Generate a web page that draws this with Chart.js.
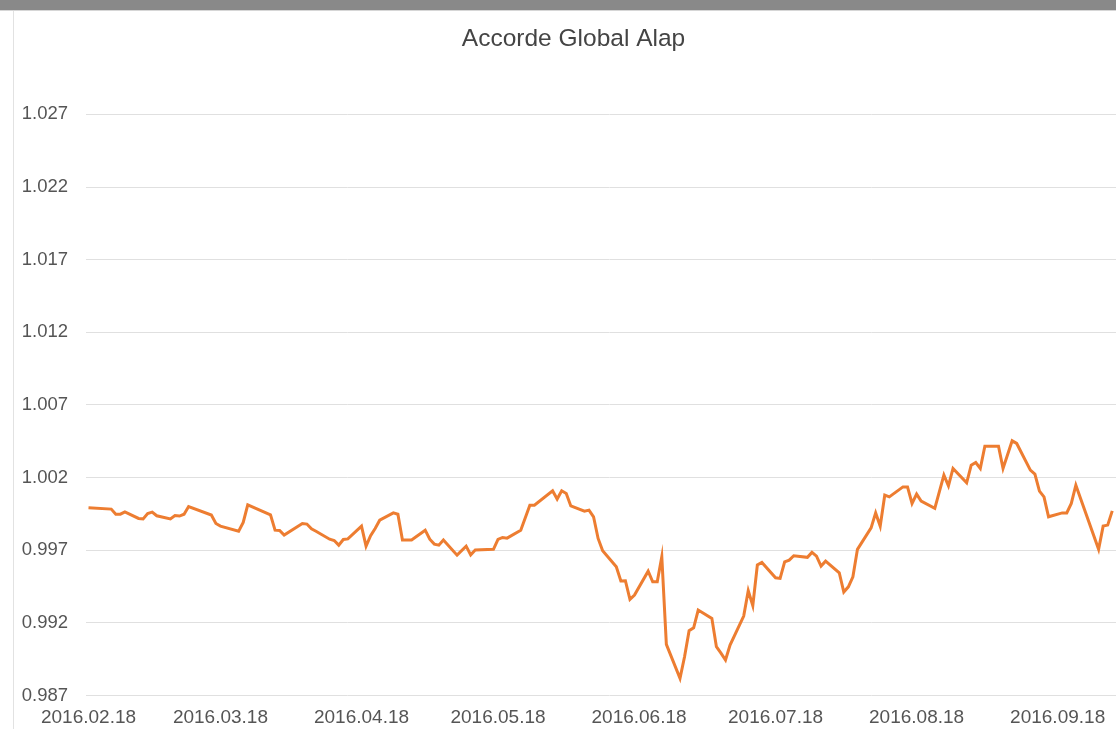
<!DOCTYPE html>
<html>
<head>
<meta charset="utf-8">
<script src="https://cdn.jsdelivr.net/npm/chart.js@4.4.0/dist/chart.umd.min.js"></script>
<style>
  html, body { margin: 0; padding: 0; width: 1116px; height: 729px; overflow: hidden; background: #fff; }
  #topbar { position: absolute; left: 0; top: 0; width: 1116px; height: 10px; background: #898989; border-bottom: 1px solid #d6d6d6; }
  #frame { position: absolute; left: 13px; top: 11px; width: 1200px; height: 718px; border-left: 1px solid #e2e2e2; }
  #wrap { position: absolute; left: 14px; top: 11px; width: 1119px; height: 718px; }
</style>
</head>
<body>
<div id="topbar"></div>
<div id="frame"></div>
<div id="wrap"><canvas id="c" width="1119" height="718"></canvas></div>
<script>
const chartTitle = 'Accorde Global Alap';
const startDate = '2016-02-18';
const tickLabels = ['2016.02.18','2016.03.18','2016.04.18','2016.05.18','2016.06.18','2016.07.18','2016.08.18','2016.09.18'];
const yTicks = [0.987, 0.992, 0.997, 1.002, 1.007, 1.012, 1.017, 1.022, 1.027];

const dates = [
 '2016-02-18','2016-02-23','2016-02-24','2016-02-25','2016-02-26','2016-02-29',
 '2016-03-01','2016-03-02','2016-03-03','2016-03-04','2016-03-07','2016-03-08','2016-03-09','2016-03-10','2016-03-11',
 '2016-03-16','2016-03-17','2016-03-18','2016-03-22','2016-03-23','2016-03-24','2016-03-29','2016-03-30','2016-03-31',
 '2016-04-01','2016-04-05','2016-04-06','2016-04-07','2016-04-08','2016-04-11','2016-04-12','2016-04-13','2016-04-14','2016-04-15',
 '2016-04-18','2016-04-19','2016-04-20','2016-04-21','2016-04-22','2016-04-25','2016-04-26','2016-04-27','2016-04-29',
 '2016-05-02','2016-05-03','2016-05-04','2016-05-05','2016-05-06','2016-05-09','2016-05-11','2016-05-12','2016-05-13',
 '2016-05-17','2016-05-18','2016-05-19','2016-05-20','2016-05-23','2016-05-25','2016-05-26','2016-05-30','2016-05-31',
 '2016-06-01','2016-06-02','2016-06-03','2016-06-06','2016-06-07','2016-06-08','2016-06-09','2016-06-10','2016-06-13',
 '2016-06-14','2016-06-15','2016-06-16','2016-06-17','2016-06-20','2016-06-21','2016-06-22','2016-06-23','2016-06-24',
 '2016-06-27','2016-06-28','2016-06-29','2016-06-30','2016-07-01','2016-07-04','2016-07-05','2016-07-06','2016-07-07',
 '2016-07-08','2016-07-11','2016-07-12','2016-07-13','2016-07-14','2016-07-15','2016-07-18','2016-07-19','2016-07-20',
 '2016-07-21','2016-07-22','2016-07-25','2016-07-26','2016-07-27','2016-07-28','2016-07-29','2016-08-01','2016-08-02',
 '2016-08-03','2016-08-04','2016-08-05','2016-08-08','2016-08-09','2016-08-10','2016-08-11','2016-08-12','2016-08-15',
 '2016-08-16','2016-08-17','2016-08-18','2016-08-19','2016-08-22','2016-08-24','2016-08-25','2016-08-26','2016-08-29',
 '2016-08-30','2016-08-31','2016-09-01','2016-09-02','2016-09-05','2016-09-06','2016-09-08','2016-09-09','2016-09-12',
 '2016-09-13','2016-09-14','2016-09-15','2016-09-16','2016-09-19','2016-09-20','2016-09-21','2016-09-22','2016-09-27',
 '2016-09-28','2016-09-29','2016-09-30'
];
const navValues = [
 0.99992,0.99983,0.99948,0.99948,0.99964,0.99919,
 0.99916,0.99953,0.99962,0.99937,0.99916,0.99939,0.99935,0.99948,1.00001,
 0.99942,0.99884,0.99866,0.99831,0.99891,1.00012,0.99944,0.99838,0.99836,
 0.99804,0.99884,0.99880,0.99847,0.99831,0.99776,0.99767,0.99735,0.99774,0.99778,
 0.99866,0.99728,0.99800,0.99850,0.99907,0.99957,0.99948,0.99770,0.99770,
 0.99838,0.99776,0.99742,0.99735,0.99770,0.99666,0.99728,0.99668,0.99701,
 0.99706,0.99774,0.99788,0.99783,0.99838,1.00010,1.00010,1.00109,1.00052,
 1.00109,1.00091,1.00005,0.99969,0.99976,0.99930,0.99781,0.99696,0.99586,
 0.99488,0.99490,0.99362,0.99391,0.99556,0.99483,0.99483,0.99655,0.99052,
 0.98818,0.98967,0.99146,0.99166,0.99288,0.99231,0.99036,0.98992,0.98944,
 0.99047,0.99247,0.99421,0.99318,0.99598,0.99616,0.99510,0.99506,0.99620,
 0.99632,0.99662,0.99651,0.99685,0.99659,0.99591,0.99625,0.99545,0.99412,
 0.99448,0.99517,0.99706,0.99854,0.99957,0.99866,1.00079,1.00067,1.00136,
 1.00136,1.00022,1.00086,1.00038,0.99988,1.00217,1.00143,1.00263,1.00164,
 1.00285,1.00304,1.00263,1.00416,1.00416,1.00263,1.00453,1.00435,1.00251,
 1.00224,1.00107,1.00067,0.99930,0.99957,0.99957,1.00022,1.00148,0.99706,
 0.99866,0.99873,0.99971
];

function dayOffset(s) {
  const p = s.split(/[-.]/).map(Number);
  const b = startDate.split('-').map(Number);
  return (Date.UTC(p[0], p[1]-1, p[2]) - Date.UTC(b[0], b[1]-1, b[2])) / 86400000;
}
const points = dates.map((d, i) => ({ x: dayOffset(d), y: navValues[i] }));
const tickPositions = tickLabels.map(dayOffset);

const FONT = '"Liberation Sans", Arial, Helvetica, sans-serif';

new Chart(document.getElementById('c'), {
  type: 'line',
  data: {
    datasets: [{
      data: points,
      borderColor: '#ED7D31',
      borderWidth: 3,
      pointRadius: 0,
      tension: 0,
      fill: false
    }]
  },
  options: {
    responsive: false,
    animation: false,
    devicePixelRatio: 1,
    layout: { padding: { left: 0, right: 0, top: 0, bottom: 0 } },
    plugins: {
      legend: { display: false },
      tooltip: { enabled: false },
      title: {
        display: true,
        text: chartTitle,
        color: '#444',
        font: { family: FONT, size: 24.5, weight: 'normal' },
        padding: { top: 14, bottom: 60 }
      }
    },
    scales: {
      x: {
        type: 'linear',
        min: -0.55,
        max: 229.56,
        grid: { display: false, drawTicks: false },
        border: { display: false },
        afterBuildTicks: (scale) => { scale.ticks = tickPositions.map(v => ({ value: v })); },
        afterFit: (scale) => { scale.height = 33.5; },
        ticks: {
          autoSkip: false,
          maxRotation: 0,
          minRotation: 0,
          padding: 11,
          color: '#555',
          font: { family: FONT, size: 19 },
          callback: (v, i) => tickLabels[i]
        }
      },
      y: {
        min: yTicks[0],
        max: yTicks[yTicks.length - 1],
        grid: { color: '#e0e0e0', lineWidth: 1, drawTicks: false },
        border: { display: false },
        afterBuildTicks: (scale) => { scale.ticks = yTicks.map(v => ({ value: v })); },
        afterFit: (scale) => { scale.width = 72; },
        ticks: {
          padding: 18,
          color: '#555',
          font: { family: FONT, size: 18.5 },
          callback: (v) => Number(v).toFixed(3)
        }
      }
    }
  }
});
</script>
</body>
</html>
